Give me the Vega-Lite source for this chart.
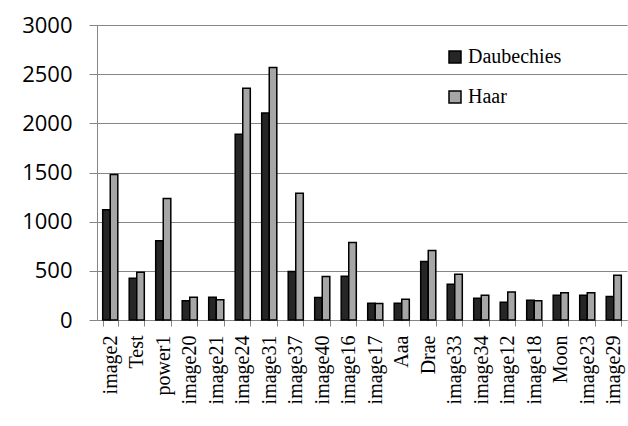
{
  "$schema": "https://vega.github.io/schema/vega-lite/v6.json",
  "width": 530,
  "height": 295,
  "autosize": "none",
  "padding": {"left": 97, "top": 25, "right": 1, "bottom": 106},
  "background": "white",
  "config": {"view": {"stroke": null}},
  "data": {
    "values": [
      {"image": "image2", "method": "Daubechies", "value": 1120},
      {"image": "image2", "method": "Haar", "value": 1480},
      {"image": "Test", "method": "Daubechies", "value": 425},
      {"image": "Test", "method": "Haar", "value": 486},
      {"image": "power1", "method": "Daubechies", "value": 806},
      {"image": "power1", "method": "Haar", "value": 1235},
      {"image": "image20", "method": "Daubechies", "value": 197},
      {"image": "image20", "method": "Haar", "value": 231},
      {"image": "image21", "method": "Daubechies", "value": 231},
      {"image": "image21", "method": "Haar", "value": 207},
      {"image": "image24", "method": "Daubechies", "value": 1888},
      {"image": "image24", "method": "Haar", "value": 2357},
      {"image": "image31", "method": "Daubechies", "value": 2105},
      {"image": "image31", "method": "Haar", "value": 2568},
      {"image": "image37", "method": "Daubechies", "value": 493},
      {"image": "image37", "method": "Haar", "value": 1289},
      {"image": "image40", "method": "Daubechies", "value": 228},
      {"image": "image40", "method": "Haar", "value": 442},
      {"image": "image16", "method": "Daubechies", "value": 446},
      {"image": "image16", "method": "Haar", "value": 789},
      {"image": "image17", "method": "Daubechies", "value": 170},
      {"image": "image17", "method": "Haar", "value": 168},
      {"image": "Aaa", "method": "Daubechies", "value": 170},
      {"image": "Aaa", "method": "Haar", "value": 211},
      {"image": "Drae", "method": "Daubechies", "value": 595},
      {"image": "Drae", "method": "Haar", "value": 707},
      {"image": "image33", "method": "Daubechies", "value": 364},
      {"image": "image33", "method": "Haar", "value": 466},
      {"image": "image34", "method": "Daubechies", "value": 221},
      {"image": "image34", "method": "Haar", "value": 252},
      {"image": "image12", "method": "Daubechies", "value": 180},
      {"image": "image12", "method": "Haar", "value": 286},
      {"image": "image18", "method": "Daubechies", "value": 201},
      {"image": "image18", "method": "Haar", "value": 197},
      {"image": "Moon", "method": "Daubechies", "value": 252},
      {"image": "Moon", "method": "Haar", "value": 276},
      {"image": "image23", "method": "Daubechies", "value": 252},
      {"image": "image23", "method": "Haar", "value": 276},
      {"image": "image29", "method": "Daubechies", "value": 238},
      {"image": "image29", "method": "Haar", "value": 456}
    ]
  },
  "mark": {"type": "bar", "strokeWidth": 1.5, "stroke": "black"},
  "encoding": {
    "x": {
      "field": "image",
      "type": "nominal",
      "sort": null,
      "scale": {"paddingInner": 0.43, "paddingOuter": 0.215},
      "axis": {
        "title": null,
        "labelAngle": -90,
        "labelAlign": "right",
        "labelBaseline": "middle",
        "labelFont": "Liberation Serif",
        "labelFontSize": 20,
        "labelColor": "black",
        "labelPadding": 9,
        "tickBand": "extent",
        "tickSize": 6,
        "tickColor": "#868686",
        "domainColor": "#868686",
        "labelOverlap": false
      }
    },
    "xOffset": {"field": "method", "type": "nominal", "sort": ["Daubechies", "Haar"]},
    "y": {
      "field": "value",
      "type": "quantitative",
      "scale": {"domain": [0, 3000], "nice": false},
      "axis": {
        "title": null,
        "values": [0, 500, 1000, 1500, 2000, 2500, 3000],
        "format": "d",
        "labelFont": "Open Sans",
        "labelFontSize": 22,
        "labelColor": "black",
        "tickSize": 8,
        "labelPadding": 17,
        "tickColor": "#868686",
        "domainColor": "#868686",
        "gridColor": "#868686",
        "gridWidth": 1
      }
    },
    "fill": {
      "field": "method",
      "type": "nominal",
      "scale": {"domain": ["Daubechies", "Haar"], "range": ["#262626", "#a6a6a6"]},
      "legend": {
        "title": null,
        "orient": "none",
        "legendX": 348,
        "legendY": 22,
        "symbolType": "square",
        "symbolSize": 144,
        "symbolStrokeColor": "black",
        "symbolStrokeWidth": 1.5,
        "labelFont": "Liberation Serif",
        "labelFontSize": 20,
        "labelColor": "black",
        "labelOffset": 3,
        "rowPadding": 20,
        "symbolOpacity": 1
      }
    }
  }
}
